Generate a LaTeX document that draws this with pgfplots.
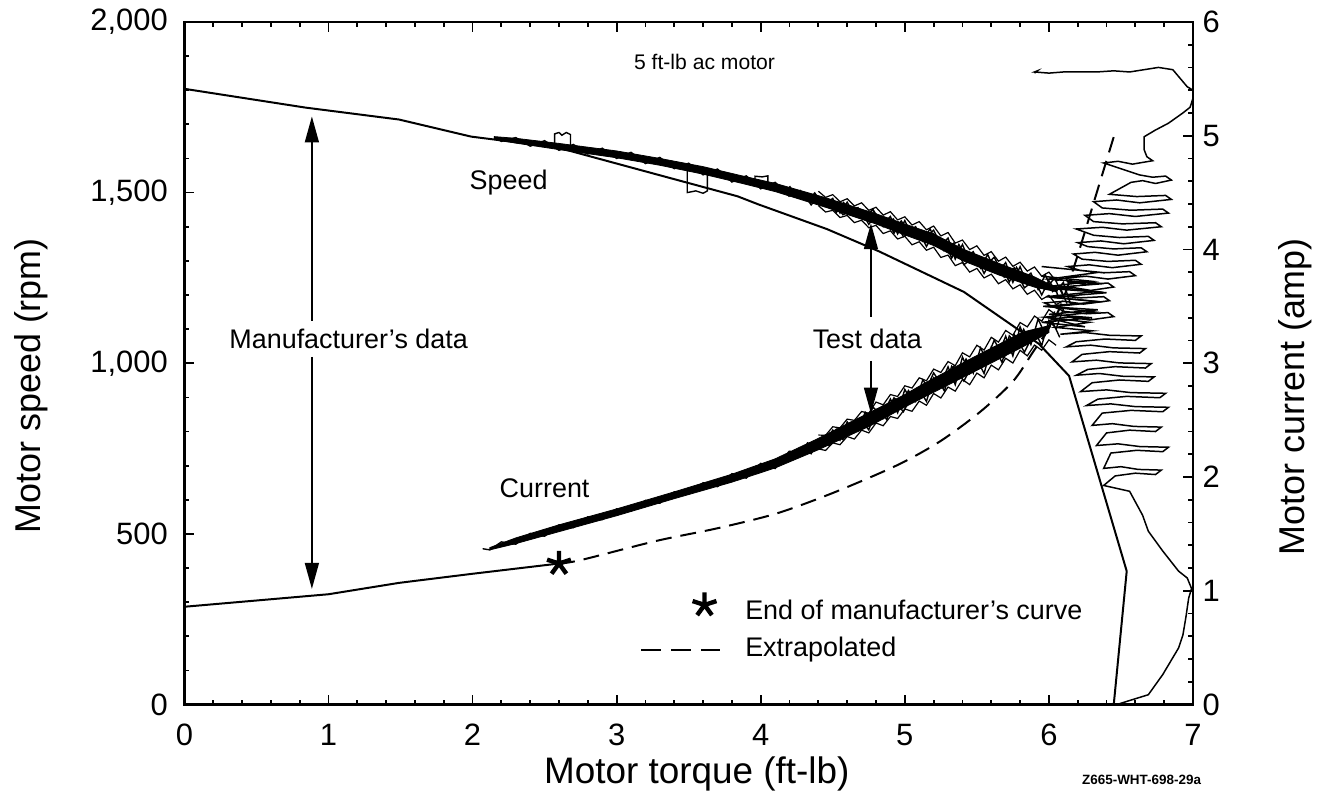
\documentclass[border=0pt]{standalone}
\usepackage{pgfplots}
\pgfplotsset{compat=1.18}
\usepackage{fontspec}
\setmainfont{Liberation Sans}
\usetikzlibrary{arrows.meta}

\begin{document}
\begin{tikzpicture}
\pgfplotsset{
  every axis/.append style={
    scale only axis, width=506pt, height=342.5pt,
    xmin=0, xmax=7, clip=false,
    axis line style={line width=1.2pt},
    major tick length=5pt, minor tick length=2.5pt,
    tick style={line width=0.9pt, black},
    tick align=inside,
    tick label style={font=\fontsize{15.5}{18}\selectfont},
    /pgf/number format/assume math mode=true,
  },
}
% left axis: speed in rpm
\begin{axis}[
  ymin=0, ymax=2000,
  xtick={0,1,...,7}, minor x tick num=4,
  ytick={0,500,...,2000}, minor y tick num=4,
  xtick pos=both, ytick pos=left,
  scaled y ticks=false,
  yticklabel style={/pgf/number format/1000 sep={,}, xshift=-4.8pt},
  xticklabel style={yshift=-6.3pt},
]
% manufacturer speed curve
\addplot[black, line width=1pt] coordinates {
  (0,1804)(0.84,1749)(1.49,1714)(1.99,1664)(2.59,1632)(3.28,1553)(3.84,1489)(3.98,1466)
  (4.46,1393)(4.82,1328)(5.41,1209)(5.68,1130)(5.93,1057)(6.14,963)(6.54,391)(6.45,0)
};
% test data: speed band
\addplot[fill=black, draw=black, line width=0.4pt] coordinates {
  (2.15,1664)(2.3,1659)(2.6,1644)(3.0,1622)(3.3,1600)(3.6,1576)(3.85,1551)(4.1,1527)(4.45,1485)(4.8,1438)
  (5.0,1408)(5.2,1379)(5.4,1335)(5.65,1293)(5.9,1253)(6.05,1222)
  (6.05,1210)(5.9,1223)(5.65,1259)(5.4,1301)(5.2,1345)(5.0,1376)
  (4.8,1408)(4.45,1457)(4.1,1503)(3.85,1529)(3.6,1554)(3.3,1580)(3.0,1602)(2.6,1626)(2.3,1645)(2.15,1656)
} -- cycle;
\addplot[black, line width=0.7pt] coordinates {
  (2.15,1662)(2.2,1650)(2.3,1661)(2.4,1636)(2.5,1652)(2.6,1624)(2.7,1641)(2.8,1613)(2.9,1630)(3.0,1600)
  (3.1,1618)(3.2,1585)(3.3,1603)(3.4,1570)(3.5,1586)(3.6,1552)(3.7,1569)(3.8,1531)(3.9,1549)(4.0,1511)
  (4.1,1530)(4.2,1488)
};
\addplot[black, line width=0.7pt] coordinates {
  (4.20,1519)(4.25,1487)(4.30,1495)(4.35,1464)(4.40,1488)(4.45,1467)(4.50,1483)(4.55,1440)(4.60,1472)
  (4.65,1433)(4.70,1444)(4.75,1407)(4.80,1437)(4.85,1410)(4.90,1430)(4.95,1379)(5.00,1418)(5.05,1372)
  (5.10,1385)(5.15,1342)(5.20,1379)(5.25,1345)(5.30,1367)(5.35,1305)(5.40,1348)(5.45,1295)(5.50,1310)
  (5.55,1263)(5.60,1302)(5.65,1270)(5.70,1295)(5.75,1237)(5.80,1283)(5.85,1230)(5.90,1247)(5.95,1200)
  (6.00,1242)(6.05,1210)(6.10,1237)(6.15,1174)
};
\addplot[black, line width=0.7pt] coordinates {
  (6.125,1175)(6.075,1225)(6.025,1210)(5.975,1259)(5.925,1216)(5.875,1264)(5.825,1247)(5.775,1281)
  (5.725,1238)(5.675,1284)(5.625,1271)(5.575,1319)(5.525,1279)(5.475,1327)(5.425,1311)(5.375,1348)
  (5.325,1308)(5.275,1358)(5.225,1348)(5.175,1394)(5.125,1358)(5.075,1400)(5.025,1386)(4.975,1417)
  (4.925,1381)(4.875,1422)(4.825,1412)(4.775,1451)(4.725,1420)(4.675,1456)(4.625,1445)(4.575,1471)
  (4.525,1442)(4.475,1476)(4.425,1468)(4.375,1499)(4.325,1476)(4.275,1506)(4.225,1497)
};
\addplot[black, line width=0.7pt] coordinates {
  (4.50,1479)(4.57,1435)(4.64,1449)(4.71,1427)(4.78,1450)(4.85,1400)(4.92,1423)(4.99,1371)(5.06,1388)
  (5.13,1362)(5.20,1390)(5.27,1330)(5.34,1352)(5.41,1289)(5.48,1310)(5.55,1281)(5.62,1311)(5.69,1252)
  (5.76,1280)(5.83,1221)(5.90,1244)(5.97,1216)(6.04,1249)(6.11,1188)
};
% upper and lower fringe of the speed trace
\addplot[black, line width=0.6pt] coordinates {
  (4.40,1504)(4.45,1486)(4.50,1494)(4.55,1473)(4.60,1482)(4.65,1461)(4.70,1470)(4.75,1448)(4.80,1457)
  (4.85,1434)(4.90,1444)(4.95,1420)(5.00,1429)(5.05,1405)(5.10,1415)(5.15,1391)(5.20,1402)(5.25,1373)
  (5.30,1383)(5.35,1352)(5.40,1361)(5.45,1333)(5.50,1344)(5.55,1316)(5.60,1327)(5.65,1299)(5.70,1311)
  (5.75,1284)(5.80,1296)(5.85,1270)(5.90,1282)(5.95,1255)(6.00,1267)(6.05,1241)(6.10,1248)
};
\addplot[black, line width=0.6pt] coordinates {
  (4.40,1462)(4.45,1443)(4.50,1448)(4.55,1427)(4.60,1433)(4.65,1412)(4.70,1419)(4.75,1397)(4.80,1404)
  (4.85,1380)(4.90,1388)(4.95,1364)(5.00,1372)(5.05,1347)(5.10,1356)(5.15,1331)(5.20,1340)(5.25,1310)
  (5.30,1317)(5.35,1286)(5.40,1295)(5.45,1267)(5.50,1278)(5.55,1250)(5.60,1261)(5.65,1233)(5.70,1245)
  (5.75,1218)(5.80,1230)(5.85,1202)(5.90,1214)(5.95,1187)(6.00,1199)(6.05,1172)(6.10,1183)
};
% small glitches on the speed trace
\addplot[black, line width=0.7pt] coordinates {(2.57,1640)(2.57,1672)(2.60,1676)(2.62,1668)(2.65,1676)(2.68,1670)(2.68,1640)};
\addplot[black, line width=0.7pt] coordinates {(3.49,1570)(3.49,1500)(3.55,1505)(3.60,1498)(3.63,1505)(3.63,1565)};
\addplot[black, line width=0.7pt] coordinates {(3.96,1530)(3.96,1548)(4.01,1546)(4.05,1549)(4.05,1525)};
% speed: crossing region and steps down
\addplot[black, line width=0.75pt] coordinates {
  (5.95,1255)(6.30,1240)(6.0,1225)(6.33,1210)(5.98,1195)(6.35,1180)(6.02,1165)(6.32,1150)(5.97,1135)
  (6.28,1120)(6.05,1105)(6.30,1095)
  (6.08,1085)(6.25,1090)(6.42,1082)(6.64,1080)(6.60,1067)(6.39,1071)(6.19,1063)
  (6.12,1048)(6.29,1053)(6.45,1045)(6.67,1043)(6.63,1030)(6.42,1034)(6.23,1026)
  (6.16,1004)(6.33,1009)(6.49,1001)(6.71,999)(6.67,986)(6.46,990)(6.27,982)
  (6.19,965)(6.35,970)(6.51,962)(6.73,960)(6.69,947)(6.49,951)(6.30,943)
  (6.22,917)(6.40,922)(6.57,914)(6.81,912)(6.77,899)(6.54,903)(6.34,895)
  (6.26,876)(6.43,881)(6.60,873)(6.83,871)(6.79,858)(6.57,862)(6.37,854)
  (6.30,818)(6.44,823)(6.59,815)(6.78,813)(6.74,800)(6.56,804)(6.40,796)
  (6.33,759)(6.48,764)(6.63,756)(6.83,754)(6.79,741)(6.61,745)(6.43,737)
  (6.38,692)(6.50,697)(6.62,689)(6.78,687)(6.74,674)(6.60,678)(6.46,670)
  (6.38,642)(6.56,625)(6.65,555)(6.69,508)(6.79,450)(6.90,391)(6.96,371)(6.99,340)(6.97,312)
  (6.95,254)(6.93,204)(6.90,166)(6.79,88)(6.69,29)(6.56,12)(6.47,0)
};
% arrows
\addplot[black, line width=0.8pt, -{Triangle[length=13pt,width=7pt]}] coordinates {(0.885,1124)(0.885,1723)};
\addplot[black, line width=0.8pt, -{Triangle[length=13pt,width=7pt]}] coordinates {(0.885,1019)(0.885,339)};
\addplot[black, line width=0.8pt, -{Triangle[length=13pt,width=7pt]}] coordinates {(4.765,1136)(4.765,1410)};
\addplot[black, line width=0.8pt, -{Triangle[length=13pt,width=7pt]}] coordinates {(4.765,1007)(4.765,853)};
% key
\addplot[only marks, mark=star, mark size=6.3pt, line width=2.2pt, black] coordinates {(3.61,292)};
\addplot[black, line width=1pt, dash pattern=on 10pt off 5pt] coordinates {(3.17,161)(3.72,161)};
% texts
\node[font=\fontsize{10.6}{12}\selectfont] at (axis cs:3.61,1883) {5 ft-lb ac motor};
\node[font=\fontsize{13.5}{16}\selectfont] at (axis cs:2.25,1530) {Speed};
\node[font=\fontsize{13.5}{16}\selectfont] at (axis cs:1.14,1071) {Manufacturer’s data};
\node[font=\fontsize{13.5}{16}\selectfont] at (axis cs:4.74,1071) {Test data};
\node[font=\fontsize{13.5}{16}\selectfont] at (axis cs:2.50,633) {Current};
\node[font=\fontsize{13.5}{16}\selectfont, anchor=west, inner sep=0pt] at (axis cs:3.89,277) {End of manufacturer’s curve};
\node[font=\fontsize{13.5}{16}\selectfont, anchor=west, inner sep=0pt] at (axis cs:3.89,161) {Extrapolated};
% axis titles
\node[anchor=base, font=\fontsize{18.5}{20}\selectfont] at ([yshift=-39.5pt]rel axis cs:0.508,0) {Motor torque (ft-lb)};
\node[rotate=90, font=\fontsize{18}{20}\selectfont] at ([xshift=-77pt]rel axis cs:0,0.467) {Motor speed (rpm)};
\node[rotate=90, font=\fontsize{18}{20}\selectfont] at ([xshift=51.5pt]rel axis cs:1,0.451) {Motor current (amp)};
\node[font=\bfseries\fontsize{6.75}{8}\selectfont] at ([yshift=-38pt]rel axis cs:0.949,0) {Z665-WHT-698-29a};
\path (rel axis cs:-0.1828,-0.1197) rectangle (rel axis cs:1.1206,1.0321);
\end{axis}
% right axis: current in amp
\begin{axis}[
  ymin=0, ymax=6,
  ytick={0,1,...,6}, minor y tick num=4,
  xtick=\empty, ytick pos=right, yticklabel pos=right,
  yticklabel style={xshift=1.3pt},
]
% manufacturer current curve
\addplot[black, line width=1pt] coordinates {
  (0,0.86)(0.5,0.915)(1.0,0.97)(1.49,1.07)(2.0,1.15)(2.60,1.24)
};
% extrapolated
\addplot[black, line width=1pt, dash pattern=on 8pt off 4.5pt, smooth] coordinates {
  (2.60,1.24)(2.75,1.27)(3.28,1.44)(3.7,1.55)(4.11,1.68)(4.5,1.86)(4.94,2.10)(5.24,2.31)
  (5.52,2.57)(5.75,2.84)(5.89,3.10)(5.98,3.27)(6.08,3.50)(6.19,3.91)(6.32,4.45)(6.45,4.99)
};
% test data: current band
\addplot[fill=black, draw=black, line width=0.4pt] coordinates {
  (2.12,1.38)(2.3,1.465)(2.6,1.58)(3.0,1.72)(3.4,1.87)(3.8,2.025)(4.1,2.16)(4.4,2.34)(4.76,2.57)
  (5.0,2.725)(5.13,2.82)(5.48,3.055)(5.82,3.275)(6.0,3.33)
  (6.0,3.27)(5.82,3.145)(5.48,2.925)(5.13,2.70)(5.0,2.615)
  (4.76,2.45)(4.4,2.24)(4.1,2.08)(3.8,1.955)(3.4,1.81)(3.0,1.66)(2.6,1.52)(2.3,1.415)(2.12,1.36)
} -- cycle;
\addplot[black, line width=0.7pt] coordinates {
  (2.07,1.37)(2.12,1.36)(2.2,1.43)(2.3,1.41)(2.4,1.505)(2.5,1.48)(2.6,1.58)(2.7,1.555)(2.8,1.65)(2.9,1.625)
  (3.0,1.72)(3.1,1.70)(3.2,1.795)(3.3,1.77)(3.4,1.87)(3.5,1.85)(3.6,1.95)(3.7,1.915)(3.8,2.03)
  (3.9,1.99)(4.0,2.12)(4.1,2.075)(4.2,2.23)
};
\addplot[black, line width=0.7pt] coordinates {
  (4.20,2.23)(4.25,2.185)(4.30,2.246)(4.35,2.205)(4.40,2.326)(4.45,2.308)(4.50,2.413)(4.55,2.324)
  (4.60,2.485)(4.65,2.40)(4.70,2.494)(4.75,2.415)(4.80,2.594)(4.85,2.552)(4.90,2.686)(4.95,2.564)
  (5.00,2.77)(5.05,2.66)(5.10,2.77)(5.15,2.665)(5.20,2.873)(5.25,2.818)(5.30,2.969)(5.35,2.812)
  (5.40,3.055)(5.45,2.91)(5.50,3.036)(5.55,2.91)(5.60,3.142)(5.65,3.076)(5.70,3.238)(5.75,3.064)
  (5.80,3.32)(5.85,3.168)(5.90,3.288)(5.95,3.155)(6.00,3.378)(6.05,3.304)(6.10,3.477)
};
\addplot[black, line width=0.7pt] coordinates {
  (6.075,3.228)(6.025,3.367)(5.975,3.251)(5.925,3.39)(5.875,3.165)(5.825,3.299)(5.775,3.168)(5.725,3.241)
  (5.675,3.007)(5.625,3.133)(5.575,3.014)(5.525,3.135)(5.475,2.913)(5.425,3.036)(5.375,2.909)(5.325,2.973)
  (5.275,2.756)(5.225,2.867)(5.175,2.759)(5.125,2.855)(5.075,2.665)(5.025,2.76)(4.975,2.645)(4.925,2.696)
  (4.875,2.504)(4.825,2.591)(4.775,2.495)(4.725,2.57)(4.675,2.407)(4.625,2.478)(4.575,2.388)(4.525,2.421)
  (4.475,2.277)(4.425,2.329)(4.375,2.257)(4.325,2.30)(4.275,2.19)(4.225,2.23)
};
\addplot[black, line width=0.7pt] coordinates {
  (4.50,2.399)(4.57,2.329)(4.64,2.449)(4.71,2.444)(4.78,2.614)(4.85,2.516)(4.92,2.683)(4.99,2.574)
  (5.06,2.736)(5.13,2.72)(5.20,2.915)(5.27,2.786)(5.34,2.973)(5.41,2.843)(5.48,3.014)(5.55,2.982)
  (5.62,3.202)(5.69,3.052)(5.76,3.252)(5.83,3.098)(5.90,3.275)(5.97,3.24)(6.04,3.455)
};
% upper and lower fringe of the current trace
\addplot[black, line width=0.6pt] coordinates {
  (4.40,2.369)(4.45,2.367)(4.50,2.442)(4.55,2.432)(4.60,2.509)(4.65,2.498)(4.70,2.576)(4.75,2.561)
  (4.80,2.659)(4.85,2.635)(4.90,2.725)(4.95,2.708)(5.00,2.802)(5.05,2.782)(5.10,2.872)(5.15,2.846)
  (5.20,2.949)(5.25,2.919)(5.30,3.015)(5.35,2.979)(5.40,3.092)(5.45,3.056)(5.50,3.158)(5.55,3.116)
  (5.60,3.228)(5.65,3.186)(5.70,3.288)(5.75,3.246)(5.80,3.358)(5.85,3.32)(5.90,3.415)(5.95,3.37)
  (6.00,3.472)(6.05,3.424)
};
\addplot[black, line width=0.6pt] coordinates {
  (4.40,2.247)(4.45,2.234)(4.50,2.30)(4.55,2.284)(4.60,2.356)(4.65,2.334)(4.70,2.412)(4.75,2.388)
  (4.80,2.475)(4.85,2.451)(4.90,2.532)(4.95,2.515)(5.00,2.598)(5.05,2.578)(5.10,2.668)(5.15,2.631)
  (5.20,2.734)(5.25,2.695)(5.30,2.791)(5.35,2.755)(5.40,2.857)(5.45,2.812)(5.50,2.914)(5.55,2.872)
  (5.60,2.984)(5.65,2.942)(5.70,3.044)(5.75,3.002)(5.80,3.114)(5.85,3.065)(5.90,3.16)(5.95,3.115)
  (6.00,3.206)(6.05,3.158)
};
% current: crossing region and steps up
\addplot[black, line width=0.75pt] coordinates {
  (5.95,3.85)(6.35,3.80)(6.0,3.74)(6.38,3.70)(5.98,3.66)(6.40,3.62)(6.02,3.58)(6.36,3.54)(5.96,3.50)
  (6.34,3.47)(6.0,3.43)(6.30,3.40)(5.95,3.36)(6.25,3.32)
  (6.02,3.39)(6.15,3.405)(6.28,3.38)(6.45,3.41)(6.41,3.445)(6.26,3.435)(6.11,3.455)
  (5.97,3.53)(6.105,3.545)(6.24,3.52)(6.42,3.55)(6.38,3.585)(6.22,3.575)(6.06,3.595)
  (6.05,3.65)(6.17,3.665)(6.29,3.64)(6.45,3.67)(6.41,3.705)(6.27,3.695)(6.13,3.715)
  (6.12,3.75)(6.26,3.765)(6.41,3.74)(6.60,3.77)(6.56,3.805)(6.38,3.795)(6.22,3.815)
  (6.13,3.85)(6.28,3.865)(6.44,3.84)(6.64,3.87)(6.60,3.905)(6.41,3.895)(6.23,3.915)
  (6.17,3.96)(6.32,3.975)(6.48,3.95)(6.68,3.98)(6.64,4.015)(6.45,4.005)(6.27,4.025)
  (6.20,4.06)(6.36,4.075)(6.52,4.05)(6.73,4.08)(6.69,4.115)(6.49,4.105)(6.31,4.125)
  (6.19,4.18)(6.37,4.195)(6.54,4.17)(6.78,4.20)(6.74,4.235)(6.51,4.225)(6.31,4.245)
  (6.25,4.30)(6.42,4.315)(6.60,4.29)(6.83,4.32)(6.79,4.355)(6.57,4.345)(6.37,4.365)
  (6.31,4.42)(6.47,4.435)(6.63,4.41)(6.85,4.44)(6.81,4.475)(6.61,4.465)(6.42,4.485)
  (6.57,4.59)(6.65,4.605)(6.74,4.58)(6.85,4.61)(6.81,4.645)(6.72,4.635)(6.63,4.655)
  (6.38,4.76)(6.48,4.775)(6.58,4.75)(6.72,4.78)(6.68,4.815)(6.66,4.88)(6.66,4.99)(6.74,5.05)
  (6.83,5.11)(6.93,5.20)(6.98,5.25)(7.0,5.33)(7.0,5.40)(6.96,5.43)(6.90,5.52)(6.86,5.58)(6.76,5.60)
  (6.66,5.58)(6.56,5.56)(6.45,5.57)(6.33,5.56)(6.20,5.56)(6.10,5.56)(6.00,5.55)(5.90,5.56)(5.92,5.57)(5.90,5.55)
};
% end of manufacturer's curve
\addplot[only marks, mark=star, mark size=6.3pt, line width=2.2pt, black] coordinates {(2.60,1.24)};
\end{axis}
\end{tikzpicture}
\end{document}
